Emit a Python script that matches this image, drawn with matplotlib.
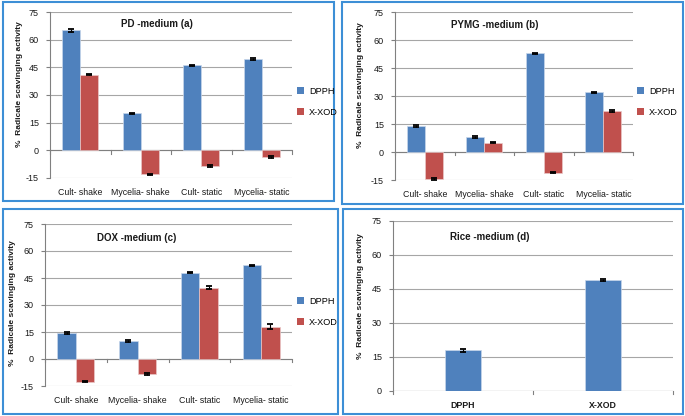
import matplotlib
matplotlib.use("Agg")
import matplotlib.pyplot as plt
from matplotlib.patches import Rectangle, Patch

plt.rcParams["font.family"] = ["Liberation Sans", "DejaVu Sans"]

W, H = 685, 416

categories = ["Cult- shake", "Mycelia- shake", "Cult- static", "Mycelia- static"]
series_names = ["DPPH", "X-XOD"]

pd_dpph = [65, 20, 46, 49.5]
pd_xod = [41, -13, -8.5, -3.5]
pd_dpph_err = [0.8, 0.4, 0.4, 0.4]
pd_xod_err = [0.4, 0.4, 0.4, 0.4]

pymg_dpph = [14, 8, 53, 32]
pymg_xod = [-14.5, 5, -11, 22]
pymg_dpph_err = [0.6, 0.4, 0.3, 0.3]
pymg_xod_err = [0.4, 0.3, 0.4, 0.4]

dox_dpph = [14.5, 10, 48, 52]
dox_xod = [-12.5, -8.5, 39.5, 18]
dox_dpph_err = [0.7, 0.4, 0.3, 0.3]
dox_xod_err = [0.4, 0.6, 0.8, 1.2]

rice_cats = ["DPPH", "X-XOD"]
rice_vals = [18, 49]
rice_err = [0.7, 0.6]

yticks = [-15, 0, 15, 30, 45, 60, 75]
yticks_d = [0, 15, 30, 45, 60, 75]

BLUE = "#4f81bd"
RED = "#c0504d"
BORDER = "#3d8fd6"
GRID = "#a6a6a6"
TXT = "#1a1a1a"

fig = plt.figure(figsize=(W / 100, H / 100), dpi=100)
fig.patch.set_facecolor("white")


def fx(px):
    return px / W


def fy(py):
    return 1 - py / H


def make_axes(x0, x1, y0, y1):
    return fig.add_axes([fx(x0), fy(y1), fx(x1) - fx(x0), (y1 - y0) / H])


def style_axes(ax, ymin, ymax, ticks, ncat):
    ax.set_ylim(ymin, ymax)
    ax.set_xlim(-0.5, ncat - 0.5)
    ax.set_yticks(ticks)
    ax.set_yticklabels([str(t) for t in ticks], fontsize=6.5, color=TXT)
    ax.yaxis.grid(True, color=GRID, linewidth=0.8)
    ax.set_axisbelow(True)
    for s in ["top", "right", "bottom"]:
        ax.spines[s].set_visible(False)
    ax.spines["left"].set_color("#808080")
    ax.spines["left"].set_linewidth(0.8)
    ax.tick_params(axis="y", length=3, color="#808080", pad=5)
    ax.tick_params(axis="x", length=0, pad=7)
    ax.axhline(0, color="#808080", linewidth=0.8, zorder=1)
    rng = ymax - ymin
    for b in range(0, ncat + 1):
        xb = b - 0.5
        ax.plot([xb, xb], [0, -rng * 0.02], color="#808080", linewidth=0.8,
                clip_on=False, zorder=1)


def ylab(xpx, ypx):
    fig.text(fx(xpx), fy(ypx), "%  Radicale scavinging activity",
             rotation=90, fontsize=6.0, fontweight="bold", ha="center", va="center", color=TXT)


def grouped(ax, d1, d2, e1, e2, title, tx, ty, ylx, yly, legx, legy):
    n = len(categories)
    xs = list(range(n))
    w = 0.3
    ekw = dict(ecolor="black", capsize=2, elinewidth=0.8, capthick=1.3)
    ax.bar([x - w / 2 for x in xs], d1, width=w, color=BLUE, edgecolor="#c8d6ea",
           linewidth=0.5, yerr=e1, error_kw=ekw, zorder=2)
    ax.bar([x + w / 2 for x in xs], d2, width=w, color=RED, edgecolor="#eac8c8",
           linewidth=0.5, yerr=e2, error_kw=ekw, zorder=2)
    style_axes(ax, -15, 75, yticks, n)
    ax.set_xticks(xs)
    ax.set_xticklabels(categories, fontsize=6.3, color=TXT)
    fig.text(fx(tx), fy(ty), title, fontsize=7, fontweight="bold", ha="center", va="center", color=TXT)
    ylab(ylx, yly)
    handles = [Patch(facecolor=BLUE), Patch(facecolor=RED)]
    fig.legend(handles, series_names, loc="center left",
               bbox_to_anchor=(fx(legx), fy(legy)), frameon=False, fontsize=6.6,
               handlelength=0.8, handleheight=0.8, labelspacing=1.3, handletextpad=0.5,
               borderpad=0, borderaxespad=0)


for (x0, y0, x1, y1) in [(3, 2, 334, 201), (342, 2, 683, 204), (3, 209, 338, 414), (343, 209, 683, 414)]:
    fig.add_artist(Rectangle((fx(x0), fy(y1)), fx(x1) - fx(x0), (y1 - y0) / H,
                             transform=fig.transFigure, fill=False,
                             edgecolor=BORDER, linewidth=1.5))

ax_a = make_axes(50, 292, 12, 178)
grouped(ax_a, pd_dpph, pd_xod, pd_dpph_err, pd_xod_err, "PD -medium (a)", 157, 24, 20, 84, 297, 102)

ax_b = make_axes(395, 633, 12, 180)
grouped(ax_b, pymg_dpph, pymg_xod, pymg_dpph_err, pymg_xod_err, "PYMG -medium (b)", 495, 25, 360, 85, 637, 102)

ax_c = make_axes(45, 292, 224, 386)
grouped(ax_c, dox_dpph, dox_xod, dox_dpph_err, dox_xod_err, "DOX -medium (c)", 137, 238, 13, 303, 297, 312)

ax_d = make_axes(393, 673, 221, 391)
ax_d.bar(range(len(rice_cats)), rice_vals, width=0.26, color=BLUE, edgecolor="#c8d6ea",
         linewidth=0.5, yerr=rice_err,
         error_kw=dict(ecolor="black", capsize=2, elinewidth=0.8, capthick=1.3), zorder=2)
style_axes(ax_d, 0, 75, yticks_d, len(rice_cats))
ax_d.set_xticks(range(len(rice_cats)))
ax_d.set_xticklabels(rice_cats, fontsize=6.3, fontweight="bold", color=TXT)
fig.text(fx(490), fy(237), "Rice -medium (d)", fontsize=7, fontweight="bold", ha="center", va="center", color=TXT)
ylab(360, 296)

fig.savefig("out.png", dpi=100)
